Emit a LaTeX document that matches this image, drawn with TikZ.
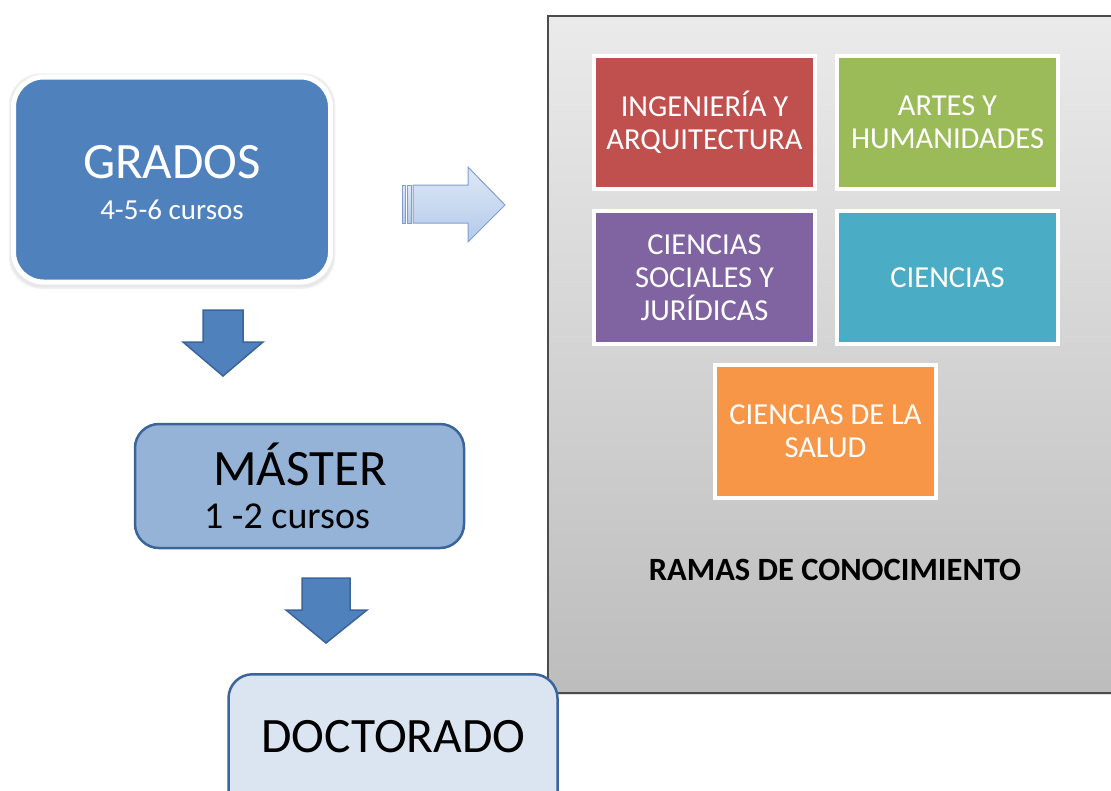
\documentclass[tikz,border=0pt]{standalone}
\usepackage{fontspec}
\setmainfont{Carlito}
\usetikzlibrary{shadows}
\definecolor{gblue}{HTML}{4F81BD}
\definecolor{mblue}{HTML}{95B3D7}
\definecolor{dblue}{HTML}{DBE5F1}
\definecolor{edgeblue}{HTML}{3B659A}
\definecolor{tred}{HTML}{C0504D}
\definecolor{tgreen}{HTML}{9BBB59}
\definecolor{tpurple}{HTML}{8064A2}
\definecolor{tcyan}{HTML}{4BACC6}
\definecolor{torange}{HTML}{F79646}
\definecolor{arrowedge}{HTML}{7F9FD2}
\definecolor{arrowtop}{HTML}{DFE9F6}
\definecolor{arrowbot}{HTML}{B3C9EA}
\tikzset{
  tile/.style={draw=white, line width=4pt, minimum width=221pt, minimum height=133pt,
    text=white, align=center, font=\fontsize{30.5}{33}\selectfont, inner sep=0pt},
  levelbox/.style={draw=edgeblue, line width=2.5pt, rounded corners=24pt, inner sep=0pt},
  blockdown/.style={fill=gblue, draw=edgeblue, line width=1.5pt, line join=miter},
  lightarrow/.style={draw=arrowedge, line width=1pt, top color=arrowtop, bottom color=arrowbot},
}
\begin{document}
\begin{tikzpicture}[x=1pt,y=-1pt]
\useasboundingbox (0,0) rectangle (1111,790);
\fill[white] (0,0) rectangle (1111,790);

% panel
\node[draw=black!70, line width=1.5pt, top color=black!8, bottom color=black!26,
      minimum width=580pt, minimum height=677pt, anchor=north west, inner sep=0pt,
      drop shadow={opacity=0.25, shadow xshift=2pt, shadow yshift=-2pt}] (panel) at (547,15) {};

% tiles
\node[tile, fill=tred] (t1) at (704.5,122) {INGENIERÍA Y\\ARQUITECTURA};
\node[tile, fill=tgreen] (t2) at (947.5,122) {ARTES Y\\HUMANIDADES};
\node[tile, fill=tpurple] (t3) at (704.5,277.5) {CIENCIAS\\SOCIALES Y\\JURÍDICAS};
\node[tile, fill=tcyan] (t4) at (947.5,277.5) {CIENCIAS};
\node[tile, fill=torange] (t5) at (825.5,431) {CIENCIAS DE LA\\SALUD};
\node[font=\bfseries\fontsize{32.5}{36}\selectfont, anchor=base] (ramas) at (835,580) {RAMAS DE CONOCIMIENTO};

% GRADOS
\node[fill=black!9, draw=black!6, line width=1.5pt, rounded corners=32pt,
      minimum width=325pt, minimum height=214pt, inner sep=0pt] (ghalo) at (172,181) {};
\node[fill=gblue, draw=white, line width=5pt, rounded corners=30pt,
      minimum width=317pt, minimum height=205pt, inner sep=0pt] (g) at (172,179.5) {};
\node[text=white, font=\fontsize{51}{56}\selectfont, anchor=base] (gt) at (172,178) {GRADOS};
\node[text=white, font=\fontsize{29}{32}\selectfont, anchor=base] (gs) at (172,219) {4-5-6 cursos};

% MASTER
\node[levelbox, fill=mblue, minimum width=329pt, minimum height=124pt] (m) at (299.5,486) {};
\node[font=\fontsize{51}{56}\selectfont, anchor=base] (mt) at (300,485) {MÁSTER};
\node[font=\fontsize{38}{42}\selectfont, anchor=base] (ms) at (287,528) {1 -2 cursos};

% DOCTORADO
\node[levelbox, fill=dblue, minimum width=329pt, minimum height=160pt, anchor=north] (d) at (393,673) {};
\node[font=\fontsize{49.5}{55}\selectfont, anchor=base] (dt) at (393.5,752) {DOCTORADO};

% block arrows
\draw[blockdown] (203,310) -- (243,310) -- (243,342) -- (263,342) -- (223,376) -- (183,342) -- (203,342) -- cycle;
\draw[blockdown] (302,578) -- (350,578) -- (350,610) -- (367,610) -- (326,643) -- (286,610) -- (302,610) -- cycle;

% right striped arrow
\path[lightarrow] (413,185) -- (468,185) -- (468,167) -- (505,205) -- (468,242) -- (468,223) -- (413,223) -- cycle;
\path[lightarrow] (402,185) rectangle (405,223);
\path[lightarrow] (407,185) rectangle (411,223);
\end{tikzpicture}
\end{document}
